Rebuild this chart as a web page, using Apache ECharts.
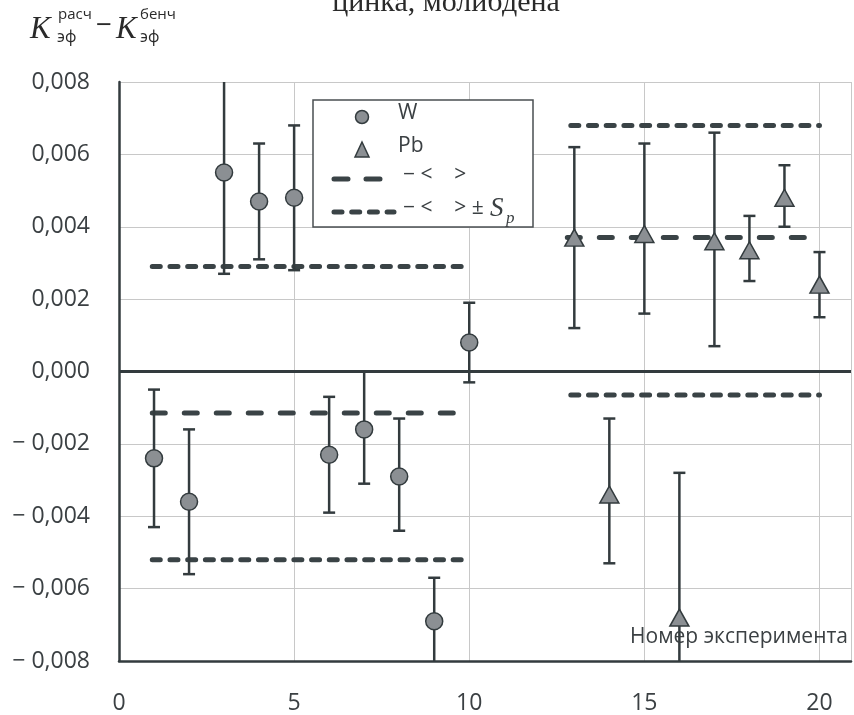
<!DOCTYPE html>
<html>
<head>
<meta charset="utf-8">
<script src="https://cdn.jsdelivr.net/npm/echarts@6/dist/echarts.min.js"></script>
<style>
  html, body { margin: 0; padding: 0; background: #ffffff; }
  #chart { width: 854px; height: 715px; }
</style>
</head>
<body>
<div id="chart"></div>
<script>
// ---- Data ----
const xTicks = [0, 5, 10, 15, 20];
const yTicks = [-0.008, -0.006, -0.004, -0.002, 0, 0.002, 0.004, 0.006, 0.008];

const W_x    = [1, 2, 3, 4, 5, 6, 7, 8, 9, 10];
const W_val  = [-0.0024, -0.0036, 0.0055, 0.0047, 0.0048, -0.0023, -0.0016, -0.0029, -0.0069, 0.0008];
const W_low  = [-0.0043, -0.0056, 0.0027, 0.0031, 0.0028, -0.0039, -0.0031, -0.0044, -0.0081, -0.0003];
const W_high = [-0.0005, -0.0016, 0.0084, 0.0063, 0.0068, -0.0007, 0.0000, -0.0013, -0.0057, 0.0019];

const Pb_x    = [13, 14, 15, 16, 17, 18, 19, 20];
const Pb_val  = [0.0037, -0.0034, 0.0038, -0.0068, 0.0036, 0.00335, 0.0048, 0.0024];
const Pb_low  = [0.0012, -0.0053, 0.0016, -0.0109, 0.0007, 0.0025, 0.0040, 0.0015];
const Pb_high = [0.0062, -0.0013, 0.0063, -0.0028, 0.0066, 0.0043, 0.0057, 0.0033];

const W_span  = [0.95, 10];
const W_mean  = -0.00115;
const W_up    = 0.0029;
const W_dn    = -0.0052;
const Pb_span = [12.8, 19.8];
const Pb_sSpan = [12.9, 20];
const Pb_mean = 0.0037;
const Pb_up   = 0.0068;
const Pb_dn   = -0.00065;

// ---- Styles ----
const DARK = '#333b3e';
const FILL = '#8b8f93';
const TXT = '#3b4043';
const SANS = '"Open Sans", "Noto Sans", sans-serif';
const SERIF = '"Liberation Serif", "DejaVu Serif", serif';

function pairs(xs, a, b) { return xs.map((x, i) => [x, a[i], b[i]]); }
function pts(xs, ys) { return xs.map((x, i) => [x, ys[i]]); }
function hline(span, y) { return span.map(x => [x, y]); }

function errorBar(params, api) {
  const x = api.value(0), lo = api.value(1), hi = api.value(2);
  const pLo = api.coord([x, lo]);
  const pHi = api.coord([x, hi]);
  const cs = params.coordSys;
  const top = cs.y, bottom = cs.y + cs.height;
  const y1 = Math.max(pHi[1], top), y2 = Math.min(pLo[1], bottom);
  const px = pLo[0];
  const st = { stroke: DARK, lineWidth: 2.5 };
  const ch = [{ type: 'line', shape: { x1: px, y1: y1, x2: px, y2: y2 }, style: st }];
  if (pHi[1] >= top) ch.push({ type: 'line', shape: { x1: px - 6, y1: pHi[1], x2: px + 6, y2: pHi[1] }, style: st });
  if (pLo[1] <= bottom) ch.push({ type: 'line', shape: { x1: px - 6, y1: pLo[1], x2: px + 6, y2: pLo[1] }, style: st });
  return { type: 'group', children: ch };
}

const meanStyle = { color: '#3a4346', width: 5, type: [13, 19], cap: 'round' };
const sStyle = { color: '#3a4346', width: 5, type: [8, 9.7], cap: 'round' };

function lineSeries(data, style) {
  return { type: 'line', data: data, symbol: 'none', lineStyle: style, silent: true, z: 3, animation: false };
}

const chart = echarts.init(document.getElementById('chart'), null, { renderer: 'canvas' });
chart.setOption({
  animation: false,
  backgroundColor: '#ffffff',
  title: {
    text: 'цинка, молибдена',
    left: 441, textAlign: 'center',
    top: -17,
    textStyle: { fontFamily: SERIF, fontSize: 30, fontWeight: 'normal', color: '#2a2a2a' }
  },
  grid: { left: 119, right: 1, top: 82, bottom: 52 },
  xAxis: {
    type: 'value', min: 0, max: 20.9, interval: 5,
    axisLine: { show: true, onZero: false, lineStyle: { color: DARK, width: 2.5 } },
    axisTick: { show: false },
    axisLabel: {
      margin: 31, fontFamily: SANS, fontSize: 23, color: TXT,
      formatter: v => (xTicks.indexOf(v) >= 0 ? String(v) : '')
    },
    splitLine: { show: true, lineStyle: { color: '#c8c8c8', width: 1 } }
  },
  yAxis: {
    type: 'value', min: yTicks[0], max: yTicks[yTicks.length - 1], interval: 0.002,
    axisLine: { show: true, onZero: false, lineStyle: { color: DARK, width: 2.5 } },
    axisTick: { show: false },
    axisLabel: {
      margin: 29, fontFamily: SANS, fontSize: 23, color: TXT,
      formatter: v => (v < -1e-9 ? '− ' : '') + Math.abs(v).toFixed(3).replace('.', ',')
    },
    splitLine: { show: true, lineStyle: { color: '#c8c8c8', width: 1 } }
  },
  series: [
    {
      type: 'line', data: [], silent: true,
      markLine: {
        symbol: 'none', silent: true, label: { show: false }, animation: false,
        data: [
          { yAxis: 0, lineStyle: { color: DARK, width: 3, type: 'solid' } },
          { yAxis: yTicks[yTicks.length - 1], lineStyle: { color: '#55595c', width: 2, type: 'solid' } }
        ]
      }
    },
    lineSeries(hline(W_span, W_mean), meanStyle),
    lineSeries(hline(W_span, W_up), sStyle),
    lineSeries(hline(W_span, W_dn), sStyle),
    lineSeries(hline(Pb_span, Pb_mean), meanStyle),
    lineSeries(hline(Pb_sSpan, Pb_up), sStyle),
    lineSeries(hline(Pb_sSpan, Pb_dn), sStyle),
    { type: 'custom', renderItem: errorBar, data: pairs(W_x, W_low, W_high), z: 4, silent: true },
    { type: 'custom', renderItem: errorBar, data: pairs(Pb_x, Pb_low, Pb_high), z: 4, silent: true },
    {
      name: 'W', type: 'scatter', data: pts(W_x, W_val), symbol: 'circle', symbolSize: 17, z: 5,
      itemStyle: { color: FILL, borderColor: DARK, borderWidth: 1.5, opacity: 1 }
    },
    {
      name: 'Pb', type: 'scatter', data: pts(Pb_x, Pb_val), symbol: 'triangle', symbolSize: [19, 17], z: 5,
      itemStyle: { color: FILL, borderColor: DARK, borderWidth: 1.5, opacity: 1 }
    }
  ],
  graphic: [
    // y-axis title
    { type: 'text', left: 30, top: 14, style: { text: 'K', font: 'italic 31px ' + SERIF, fill: '#2a2a2a' } },
    { type: 'text', left: 58, top: 7, style: { text: 'расч', font: '15px ' + SANS, fill: '#2a2a2a' } },
    { type: 'text', left: 57, top: 29, style: { text: 'эф', font: '16px ' + SANS, fill: '#2a2a2a' } },
    { type: 'text', left: 96, top: 12, style: { text: '−', font: '28px ' + SANS, fill: '#2a2a2a' } },
    { type: 'text', left: 116, top: 14, style: { text: 'K', font: 'italic 31px ' + SERIF, fill: '#2a2a2a' } },
    { type: 'text', left: 140, top: 7, style: { text: 'бенч', font: '15px ' + SANS, fill: '#2a2a2a' } },
    { type: 'text', left: 140, top: 29, style: { text: 'эф', font: '16px ' + SANS, fill: '#2a2a2a' } },
    // x-axis title
    { type: 'text', right: 6, top: 627, z: 10, style: { text: 'Номер эксперимента', font: '21px ' + SANS, fill: TXT } },
    // legend box
    { type: 'rect', shape: { x: 313, y: 100, width: 220, height: 127 }, z: 20,
      style: { fill: '#ffffff', stroke: '#4a4f52', lineWidth: 1.5 } },
    { type: 'circle', shape: { cx: 362, cy: 117, r: 6.5 }, z: 21, style: { fill: FILL, stroke: DARK, lineWidth: 1.5 } },
    { type: 'text', left: 398, top: 103, z: 21, style: { text: 'W', font: '21px ' + SANS, fill: TXT } },
    { type: 'polygon', shape: { points: [[362, 142], [369, 157], [355, 157]] }, z: 21, style: { fill: FILL, stroke: DARK, lineWidth: 1.5 } },
    { type: 'text', left: 398, top: 136, z: 21, style: { text: 'Pb', font: '21px ' + SANS, fill: TXT } },
    { type: 'line', shape: { x1: 334, y1: 179, x2: 382, y2: 179 }, z: 21,
      style: { stroke: '#3a4346', lineWidth: 5, lineDash: [14, 18], lineCap: 'round' } },
    { type: 'text', left: 403, top: 165, z: 21, style: { text: '− <    >', font: '21px ' + SANS, fill: TXT } },
    { type: 'line', shape: { x1: 334, y1: 212, x2: 394, y2: 212 }, z: 21,
      style: { stroke: '#3a4346', lineWidth: 5, lineDash: [8, 9.7], lineCap: 'round' } },
    { type: 'text', left: 403, top: 198, z: 21, style: { text: '− <    > ±', font: '21px ' + SANS, fill: TXT } },
    { type: 'text', left: 490, top: 195, z: 21, style: { text: 'S', font: 'italic 27px ' + SERIF, fill: TXT } },
    { type: 'text', left: 506, top: 210, z: 21, style: { text: 'p', font: 'italic 17px ' + SERIF, fill: TXT } }
  ]
});
</script>
</body>
</html>
